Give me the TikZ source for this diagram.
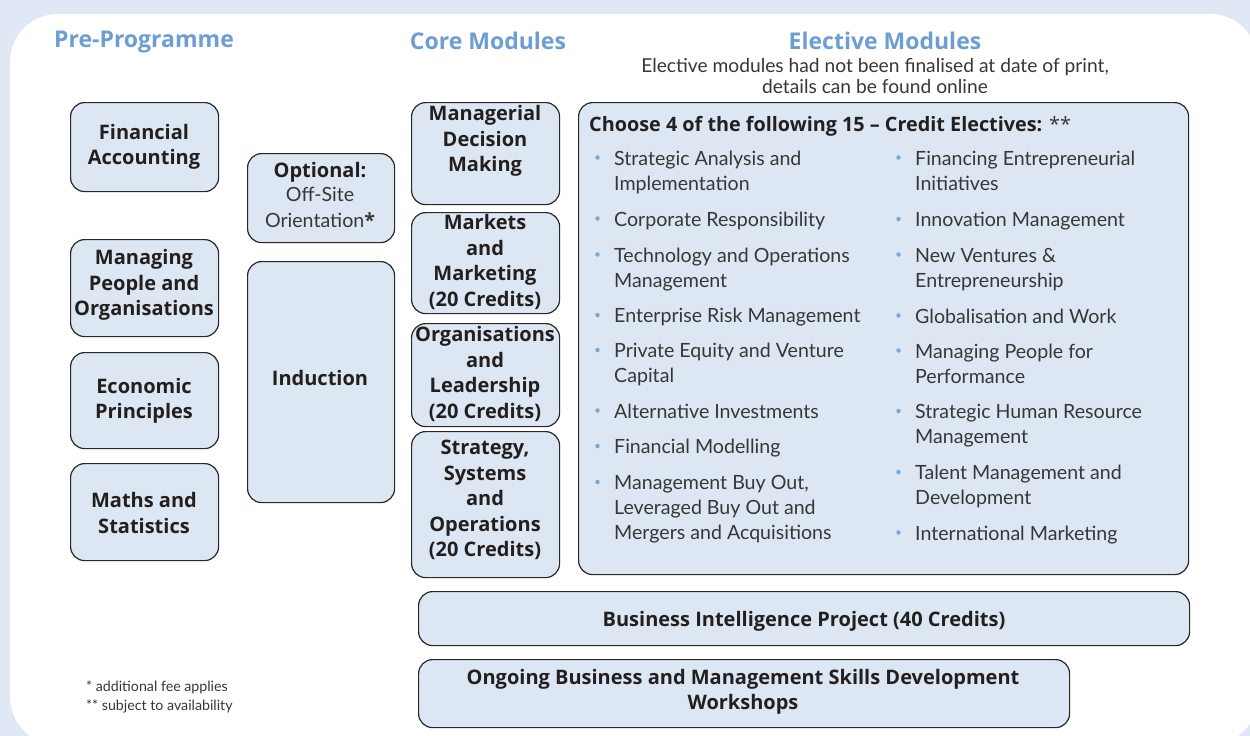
\documentclass[tikz,border=0pt]{standalone}
\usepackage{fontspec}
\setmainfont{Lato}
\newfontfamily\heavy{Open Sans}
\definecolor{bgblue}{RGB}{223,232,244}
\definecolor{boxfill}{RGB}{220,231,243}
\definecolor{boxline}{RGB}{40,40,40}
\definecolor{headblue}{RGB}{108,157,212}
\definecolor{bulletblue}{RGB}{120,165,215}
\definecolor{darktext}{RGB}{35,31,32}
\definecolor{regtext}{RGB}{55,55,55}
\tikzset{
  box/.style={draw=boxline, fill=boxfill, line width=1.2pt, rounded corners=14pt, inner sep=0pt},
  bt/.style={font=\fontsize{20}{25.5}\selectfont\heavy\bfseries, text=darktext, align=center, inner sep=0pt, yshift=-2pt},
  rt/.style={font=\fontsize{19.6}{25}\selectfont, text=regtext, inner sep=0pt},
  head/.style={font=\fontsize{23}{27}\selectfont\heavy\bfseries, text=headblue, inner sep=0pt, yshift=-2pt},
}
\newcommand\boxnode[5]{\node[box, anchor=north west, minimum width={#4-#2}, minimum height={#5-#3}] (#1) at (#2,#3) {};}
\newcommand\eli[4]{\fill[bulletblue] (#2-16.5,#3-7.5) circle (2.2pt); \node[rt, anchor=base west] (#1) at (#2,#3) {#4};}
\newcommand\elc[4]{\node[rt, anchor=base west] (#1) at (#2,#3) {#4};}
\begin{document}
\begin{tikzpicture}[x=1pt,y=-1pt]
\useasboundingbox (0,0) rectangle (1250,736);
\fill[bgblue] (0,0) rectangle (1250,736);
\begin{scope}
\clip (0,0) rectangle (1250,736);
\fill[white, rounded corners=48pt] (10,14) rectangle (1258,745);
\end{scope}

% headings
\node[head] (h1) at (144,40) {Pre-Programme};
\node[head] (h2) at (488,39) {Core Modules};
\node[head] (h3) at (885,39) {Elective Modules};
\node[font=\fontsize{19.2}{21}\selectfont, text=regtext, anchor=base, inner sep=0pt] (s1) at (875,72) {Elective modules had not been finalised at date of print,};
\node[font=\fontsize{19.2}{21}\selectfont, text=regtext, anchor=base, inner sep=0pt] (s2) at (875,93) {details can be found online};

% pre-programme boxes
\boxnode{fa}{70}{102}{218}{191}
\node[bt] (fat) at (144,145) {Financial\\Accounting};
\boxnode{mp}{70}{239}{218}{336}
\node[bt] (mpt) at (144,283) {Managing\\People and\\Organisations};
\boxnode{ep}{70}{352}{218}{448}
\node[bt] (ept) at (144,399) {Economic\\Principles};
\boxnode{ms}{70}{463}{218}{560}
\node[bt] (mst) at (144,511) {Maths and\\Statistics};

% optional + induction
\boxnode{op}{247}{153}{394}{242}
\node[bt] (opt1) at (320,170) {Optional:};
\node[rt, anchor=base] (opt2) at (320,201) {Off-Site};
\node[rt, anchor=base] (opt3) at (320,227) {Orientation{\heavy\bfseries*}};
\boxnode{ind}{247}{261}{394}{502}
\node[bt] (indt) at (320,376) {Induction};

% core modules
\boxnode{md}{411}{102}{559}{204}
\node[bt] (mdt) at (485,139) {Managerial\\Decision\\Making};
\boxnode{mm}{411}{212}{559}{313}
\node[bt] (mmt) at (485,260) {Markets\\and\\Marketing\\(20 Credits)};
\boxnode{ol}{411}{323}{559}{426}
\node[bt] (olt) at (485,372) {Organisations\\and\\Leadership\\(20 Credits)};
\boxnode{sso}{411}{431}{559}{577}
\node[bt] (ssot) at (485,498) {Strategy,\\Systems\\and\\Operations\\(20 Credits)};

% electives
\boxnode{el}{578}{102}{1188}{574}
\node[font=\fontsize{19.8}{24}\selectfont\heavy\bfseries, text=darktext, anchor=base west, inner sep=0pt] (elt) at (589,131.5) {Choose 4 of the following 15 – Credit Electives: {\fontseries{m}\selectfont\color{regtext}**}};

\eli{a1}{614}{165}{Strategic Analysis and}
\elc{a1b}{614}{190}{Implementation}
\eli{a2}{614}{226}{Corporate Responsibility}
\eli{a3}{614}{262}{Technology and Operations}
\elc{a3b}{614}{287}{Management}
\eli{a4}{614}{322.5}{Enterprise Risk Management}
\eli{a5}{614}{357.5}{Private Equity and Venture}
\elc{a5b}{614}{382.5}{Capital}
\eli{a6}{614}{418}{Alternative Investments}
\eli{a7}{614}{453.5}{Financial Modelling}
\eli{a8}{614}{489.5}{Management Buy Out,}
\elc{a8b}{614}{514.5}{Leveraged Buy Out and}
\elc{a8c}{614}{539.5}{Mergers and Acquisitions}

\eli{b1}{915}{165}{Financing Entrepreneurial}
\elc{b1b}{915}{190}{Initiatives}
\eli{b2}{915}{226.5}{Innovation Management}
\eli{b3}{915}{262}{New Ventures \&}
\elc{b3b}{915}{287}{Entrepreneurship}
\eli{b4}{915}{323}{Globalisation and Work}
\eli{b5}{915}{358}{Managing People for}
\elc{b5b}{915}{383}{Performance}
\eli{b6}{915}{418.5}{Strategic Human Resource}
\elc{b6b}{915}{443.5}{Management}
\eli{b7}{915}{479.5}{Talent Management and}
\elc{b7b}{915}{504.5}{Development}
\eli{b8}{915}{540}{International Marketing}

% bottom boxes
\boxnode{bip}{418}{591}{1189}{645}
\node[bt] (bipt) at (804,619) {Business Intelligence Project (40 Credits)};
\boxnode{og}{418}{659}{1069}{727}
\node[bt] (ogt) at (743,690) {Ongoing Business and Management Skills Development\\Workshops};

% footnotes
\node[font=\fontsize{14.2}{19}\selectfont, text=regtext, anchor=base west, inner sep=0pt] (f1) at (86,691) {* additional fee applies};
\node[font=\fontsize{14.2}{19}\selectfont, text=regtext, anchor=base west, inner sep=0pt] (f2) at (86,710) {** subject to availability};
\end{tikzpicture}
\end{document}
